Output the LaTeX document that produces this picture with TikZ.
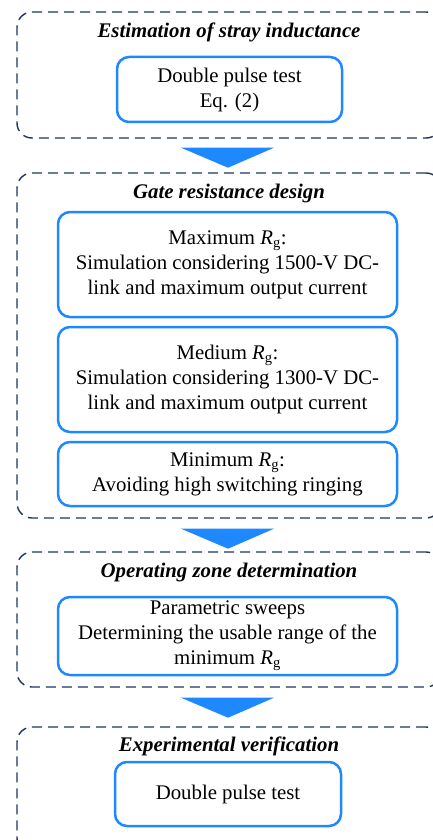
\documentclass[tikz,border=0pt]{standalone}
\usepackage{fontspec}
\setmainfont{Liberation Serif}
\usetikzlibrary{calc}
\definecolor{stagenavy}{RGB}{28,52,98}
\definecolor{taskblue}{RGB}{30,136,255}
\tikzset{
	stage/.style={draw=stagenavy, dash pattern=on 10pt off 6pt, line width=1.4pt, rounded corners=15pt, minimum width=424pt},
	stagetitle/.style={font=\fontsize{20.8}{24}\selectfont\bfseries\itshape, inner sep=0pt},
	task/.style={draw=taskblue, line width=2.5pt, rounded corners=12pt, align=center, font=\fontsize{20.8}{25}\selectfont, inner sep=0pt},
	flow/.style={fill=taskblue}
}
\newcommand{\Rgate}{{\itshape R}\textsubscript{g}}

\begin{document}
\begin{tikzpicture}[x=1pt,y=-1pt]
\useasboundingbox (0,0) rectangle (433,840);
\clip (0,0) rectangle (433,840);
% stages
\node [stage, minimum height=126pt] (s1) at (229,75) {};
\node [stage, minimum height=345pt] (s2) at (229,345.5) {};
\node [stage, minimum height=135pt] (s3) at (229,619.5) {};
\node [stage, minimum height=126pt] (s4) at (229,790) {};
% titles
\node [stagetitle] (t1) at (229,32) {Estimation of stray inductance};
\node [stagetitle] (t2) at (229,193) {Gate resistance design};
\node [stagetitle] (t3) at (229,572) {Operating zone determination};
\node [stagetitle] (t4) at (229,746) {Experimental verification};
% tasks
\node [task, minimum width=225pt, minimum height=65pt] (dpt) at (229.5,89.5) {Double pulse test\\Eq. (2)};
\node [task, minimum width=339pt, minimum height=105pt] (rmax) at (227.5,264.5) {Maximum \Rgate:\\Simulation considering 1500-V DC-\\link and maximum output current};
\node [task, minimum width=339pt, minimum height=105pt] (rmed) at (227.5,379.5) {Medium \Rgate:\\Simulation considering 1300-V DC-\\link and maximum output current};
\node [task, minimum width=339pt, minimum height=64pt] (rmin) at (227.5,474) {Minimum \Rgate:\\Avoiding high switching ringing};
\node [task, minimum width=339pt, minimum height=78pt] (sweep) at (227.5,636) {Parametric sweeps\\Determining the usable range of the\\minimum \Rgate};
\node [task, minimum width=226pt, minimum height=64pt] (exp) at (228,794) {Double pulse test};
% arrows between stages
\fill [flow] ($(s1.south)+(-48,9)$) -- ++(93,0) -- ($(s1.south)+(-1,29)$) -- cycle;
\fill [flow] ($(s2.south)+(-48,10)$) -- ++(93,0) -- ($(s2.south)+(-1,30)$) -- cycle;
\fill [flow] ($(s3.south)+(-48,10)$) -- ++(93,0) -- ($(s3.south)+(-1,30)$) -- cycle;
\end{tikzpicture}
\end{document}
